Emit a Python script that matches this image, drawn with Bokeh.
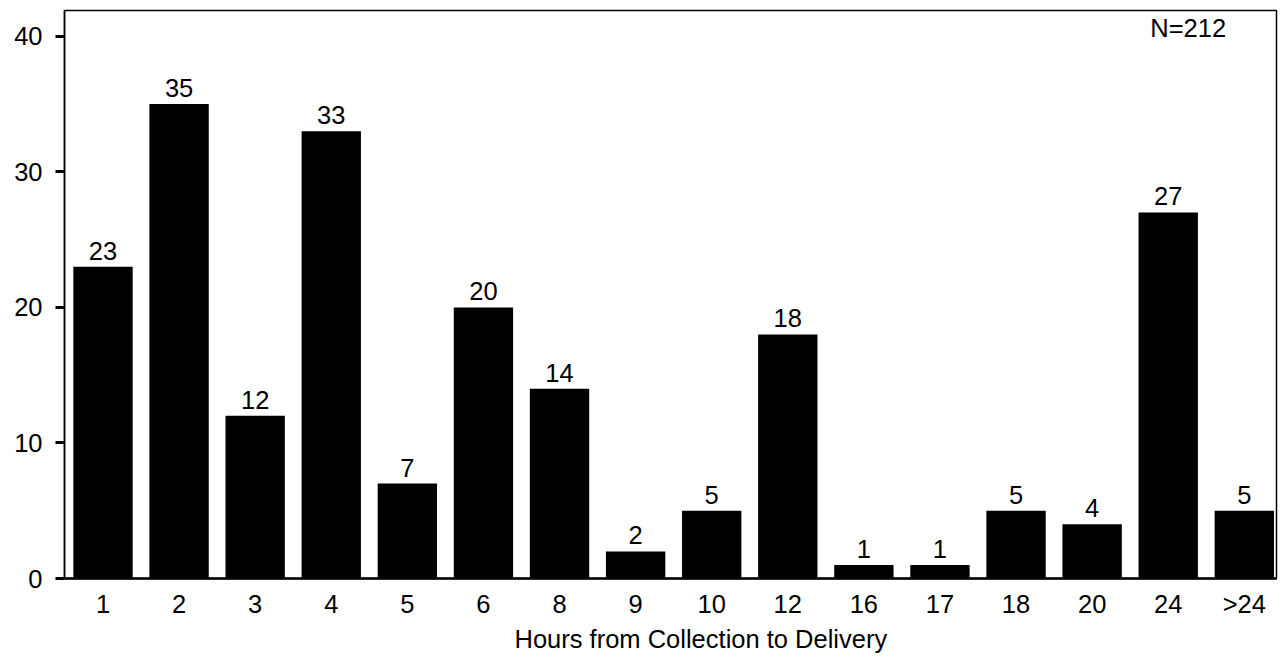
from bokeh.plotting import figure
from bokeh.models import ColumnDataSource, Range1d, FixedTicker, Title
from bokeh.core.properties import value
from bokeh.embed import file_html
from bokeh.resources import INLINE

categories = ["1", "2", "3", "4", "5", "6", "8", "9", "10", "12", "16", "17", "18", "20", "24", ">24"]
counts = [23, 35, 12, 33, 7, 20, 14, 2, 5, 18, 1, 1, 5, 4, 27, 5]
y_ticks = [0, 10, 20, 30, 40]
x_title = "Hours from Collection to Delivery"
note = "N=212"

FONT = "Liberation Sans"
FS = "25.5px"

pos = list(range(len(categories)))
src = ColumnDataSource(dict(x=pos, n=counts, lab=[str(c) for c in counts]))

p = figure(
    x_range=Range1d(-0.506, len(categories) - 1 + 0.423),
    y_range=Range1d(0, 41.9),
    width=1280, height=654,
    min_border_left=64, min_border_right=4, min_border_top=10, min_border_bottom=0,
    output_backend="svg", toolbar_location=None,
)
p.background_fill_color = "white"
p.border_fill_color = "white"
p.outline_line_color = "black"
p.outline_line_width = 1.5
p.xgrid.visible = False
p.ygrid.visible = False

p.vbar(x="x", top="n", width=0.78, source=src, fill_color="black", line_color=None)
p.text(x="x", y="n", text="lab", source=src, text_align="center", text_baseline="bottom",
       y_offset=-7, text_font=value(FONT), text_font_size=FS, text_color="black")
p.text(x=[categories.index("24")], y=[40.6], text=[note], text_align="center", text_baseline="middle",
       x_offset=20, text_font=value(FONT), text_font_size=FS, text_color="black")

ya = p.yaxis[0]
ya.ticker = FixedTicker(ticks=y_ticks)
ya.minor_tick_line_color = None
ya.major_tick_in = 0
ya.major_tick_out = 9
ya.major_tick_line_width = 3
ya.major_tick_line_color = "black"
ya.axis_line_color = "black"
ya.axis_line_width = 1.5
ya.major_label_standoff = 13
ya.major_label_text_font = FONT
ya.major_label_text_font_size = FS
ya.major_label_text_color = "black"

xa = p.xaxis[0]
xa.ticker = FixedTicker(ticks=pos)
xa.major_label_overrides = {i: c for i, c in zip(pos, categories)}
xa.axis_line_color = "black"
xa.axis_line_width = 2.5
xa.major_tick_line_color = None
xa.minor_tick_line_color = None
xa.major_tick_in = 0
xa.major_tick_out = 0
xa.major_label_standoff = 11
xa.major_label_text_font = FONT
xa.major_label_text_font_size = FS
xa.major_label_text_color = "black"

xt = Title(text=x_title, align="left", offset=450, standoff=4,
           text_font=FONT, text_font_size=FS, text_font_style="normal", text_color="black")
p.add_layout(xt, "below")

open("out.html", "w").write(file_html(p, INLINE))
